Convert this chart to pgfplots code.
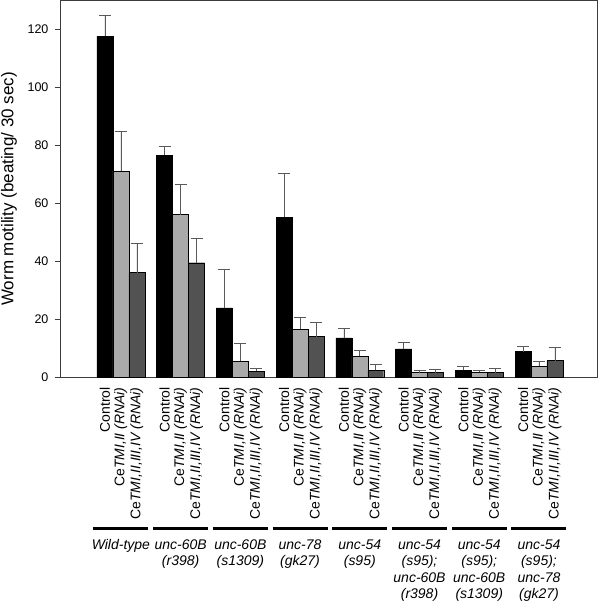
\documentclass[border=0pt]{standalone}
\usepackage{graphicx}
\usepackage{pgfplots}
\pgfplotsset{compat=1.18}
\usepackage{fontspec}
\setmainfont{Liberation Sans}
\definecolor{barlight}{RGB}{170,170,170}
\definecolor{bardark}{RGB}{82,82,82}
\definecolor{errgray}{RGB}{90,90,90}
\definecolor{axgray}{RGB}{60,60,60}

% x = bar position (group index -/0/+ 0.267), y = mean, ey = error (upwards only)
\pgfplotstableread{
x y ey
-0.267 117.7 7.3
0.733 76.6 3.1
1.733 23.9 13.2
2.733 55.2 15.1
3.733 13.6 3.3
4.733 9.8 2.4
5.733 2.4 1.2
6.733 8.8 1.7
}\ctrl
\pgfplotstableread{
x y ey
0 71.1 13.6
1 56.1 10.3
2 5.5 6.3
3 16.6 4.2
4 7.2 2.0
5 1.6 0.9
6 1.7 0.6
7 3.7 1.9
}\tmitwo
\pgfplotstableread{
x y ey
0.267 36.1 10.0
1.267 39.5 8.3
2.267 2.1 0.9
3.267 14.0 5.0
4.267 2.4 2.0
5.267 1.6 1.2
6.267 1.6 1.3
7.267 5.7 4.5
}\tmifour

\newcommand{\rl}[1]{\rotatebox{90}{#1}}
\newcommand{\lctl}{\rl{Control}}
\newcommand{\ltwo}{\rl{Ce\textit{TMI,II (RNAi)}}}
\newcommand{\lfour}{\rl{Ce\textit{TMI,II,III,IV (RNAi)}}}
\newcommand{\grp}[1]{\begin{tabular}[t]{@{}c@{}}\rule{55pt}{2.8pt}\\[3pt] #1\end{tabular}}

\begin{document}
\begin{tikzpicture}
\begin{axis}[
    scale only axis,
    width=538pt, height=377pt,
    xmin=-1.02, xmax=7.98,
    ymin=0, ymax=130,
    axis line style={axgray},
    ytick={0,20,...,120},
    /pgf/number format/assume math mode=true,
    ylabel={Worm motility (beating/ 30 sec)},
    ylabel style={font=\fontsize{17}{19}\selectfont, at={(axis description cs:-0.0948,0.5)}, anchor=center},
    yticklabel style={font=\fontsize{12.5}{14}\selectfont, xshift=-3pt},
    y tick style={axgray},
    ytick pos=left, tick align=outside,
    major tick length=5pt,
    xtick={-0.267,0,0.267, 0.733,1,1.267, 1.733,2,2.267, 2.733,3,3.267,
           3.733,4,4.267, 4.733,5,5.267, 5.733,6,6.267, 6.733,7,7.267},
    xticklabels={\lctl,\ltwo,\lfour,\lctl,\ltwo,\lfour,\lctl,\ltwo,\lfour,\lctl,\ltwo,\lfour,
                 \lctl,\ltwo,\lfour,\lctl,\ltwo,\lfour,\lctl,\ltwo,\lfour,\lctl,\ltwo,\lfour},
    x tick style={draw=none},
    xtick pos=bottom,
    x tick label style={font=\fontsize{14}{16.5}\selectfont, anchor=north, yshift=-4pt, inner sep=1pt},
    extra x ticks={0,...,7},
    extra x tick labels={\grp{\textit{Wild-type}},
        \grp{\textit{unc-60B}\\\textit{(r398)}},
        \grp{\textit{unc-60B}\\\textit{(s1309)}},
        \grp{\textit{unc-78}\\\textit{(gk27)}},
        \grp{\textit{unc-54}\\\textit{(s95)}},
        \grp{\textit{unc-54}\\\textit{(s95);}\\\textit{unc-60B}\\\textit{(r398)}},
        \grp{\textit{unc-54}\\\textit{(s95);}\\\textit{unc-60B}\\\textit{(s1309)}},
        \grp{\textit{unc-54}\\\textit{(s95);}\\\textit{unc-78}\\\textit{(gk27)}}},
    extra x tick style={major tick length=3pt, tick style={axgray, draw=axgray},
        tick label style={yshift=-133pt, font=\fontsize{14}{14.2}\selectfont}},
    bar width=0.267,
    error bars/y dir=plus,
    error bars/y explicit,
    error bars/error bar style={errgray, line width=0.6pt},
    error bars/error mark options={rotate=90, mark size=6pt, errgray, line width=0.6pt},
]
\addplot[ybar, bar shift=0, fill=black, draw=black] table[x=x, y=y, y error=ey]{\ctrl};
\addplot[ybar, bar shift=0, fill=barlight, draw=black] table[x=x, y=y, y error=ey]{\tmitwo};
\addplot[ybar, bar shift=0, fill=bardark, draw=black] table[x=x, y=y, y error=ey]{\tmifour};
\end{axis}
\pgfresetboundingbox
\path[use as bounding box] ([xshift=-60pt,yshift=-231pt]current axis.south west) rectangle ([xshift=2pt,yshift=0.5pt]current axis.north east);
\end{tikzpicture}
\end{document}
